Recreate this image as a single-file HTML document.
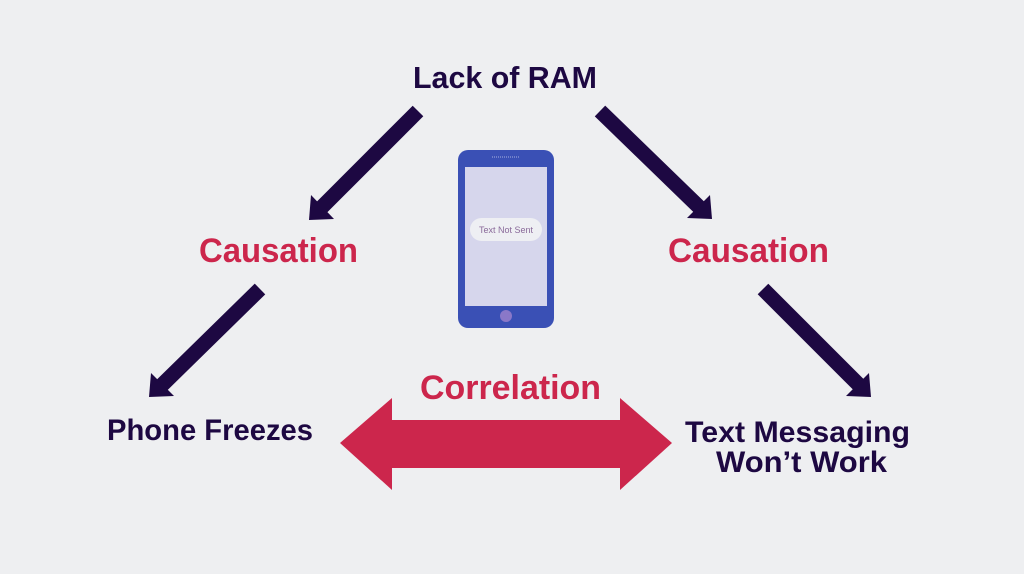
<!DOCTYPE html>
<html><head><meta charset="utf-8"><style>
html,body{margin:0;padding:0;background:#eeeff1;}
svg{display:block;}
text{font-family:"Liberation Sans",sans-serif;font-weight:bold;}
</style></head><body>
<svg width="1024" height="574" viewBox="0 0 1024 574">
<rect width="1024" height="574" fill="#eeeff1"/>
<g fill="#1d0842" stroke="none">
 <line x1="418" y1="111" x2="322" y2="207" stroke="#1d0842" stroke-width="15"/>
 <polygon points="309,220 311,195 334,219"/>
 <line x1="600" y1="111" x2="699" y2="207" stroke="#1d0842" stroke-width="15"/>
 <polygon points="712,219 710,195 687,218"/>
 <line x1="260" y1="289" x2="162" y2="385" stroke="#1d0842" stroke-width="15"/>
 <polygon points="149,397 151,373 174,396"/>
 <line x1="763" y1="289" x2="859" y2="385" stroke="#1d0842" stroke-width="15"/>
 <polygon points="871,397 869,373 846,396"/>
</g>
<polygon fill="#cc264c" points="340,443 392,398 392,420 620,420 620,398 672,443 620,490 620,468 392,468 392,490"/>
<text x="413" y="88" font-size="31" fill="#1d0842" textLength="184" lengthAdjust="spacingAndGlyphs">Lack of RAM</text>
<text x="199" y="262" font-size="34" fill="#cc264c" textLength="159" lengthAdjust="spacingAndGlyphs">Causation</text>
<text x="668" y="262" font-size="34" fill="#cc264c" textLength="161" lengthAdjust="spacingAndGlyphs">Causation</text>
<text x="420" y="399" font-size="34" fill="#cc264c" textLength="181" lengthAdjust="spacingAndGlyphs">Correlation</text>
<text x="107" y="440" font-size="30" fill="#1d0842" textLength="206" lengthAdjust="spacingAndGlyphs">Phone Freezes</text>
<text x="685" y="442" font-size="30" fill="#1d0842" textLength="225" lengthAdjust="spacingAndGlyphs">Text Messaging</text>
<text x="716" y="472" font-size="30" fill="#1d0842" textLength="171" lengthAdjust="spacingAndGlyphs">Won’t Work</text>
<rect x="458" y="150" width="96" height="178" rx="10" fill="#3a50b5"/>
<rect x="465" y="167" width="82" height="139" fill="#d6d6ec"/>
<line x1="492" y1="157" x2="520" y2="157" stroke="#a8b0e0" stroke-width="1" stroke-dasharray="1,1"/>
<rect x="470" y="218" width="72" height="23" rx="11.5" fill="#eeeff3"/>
<text x="506" y="233" font-size="9" font-weight="normal" fill="#8a6a9a" text-anchor="middle" style="font-weight:normal">Text Not Sent</text>
<circle cx="506" cy="316" r="6" fill="#8a78c8"/>
</svg>
</body></html>
